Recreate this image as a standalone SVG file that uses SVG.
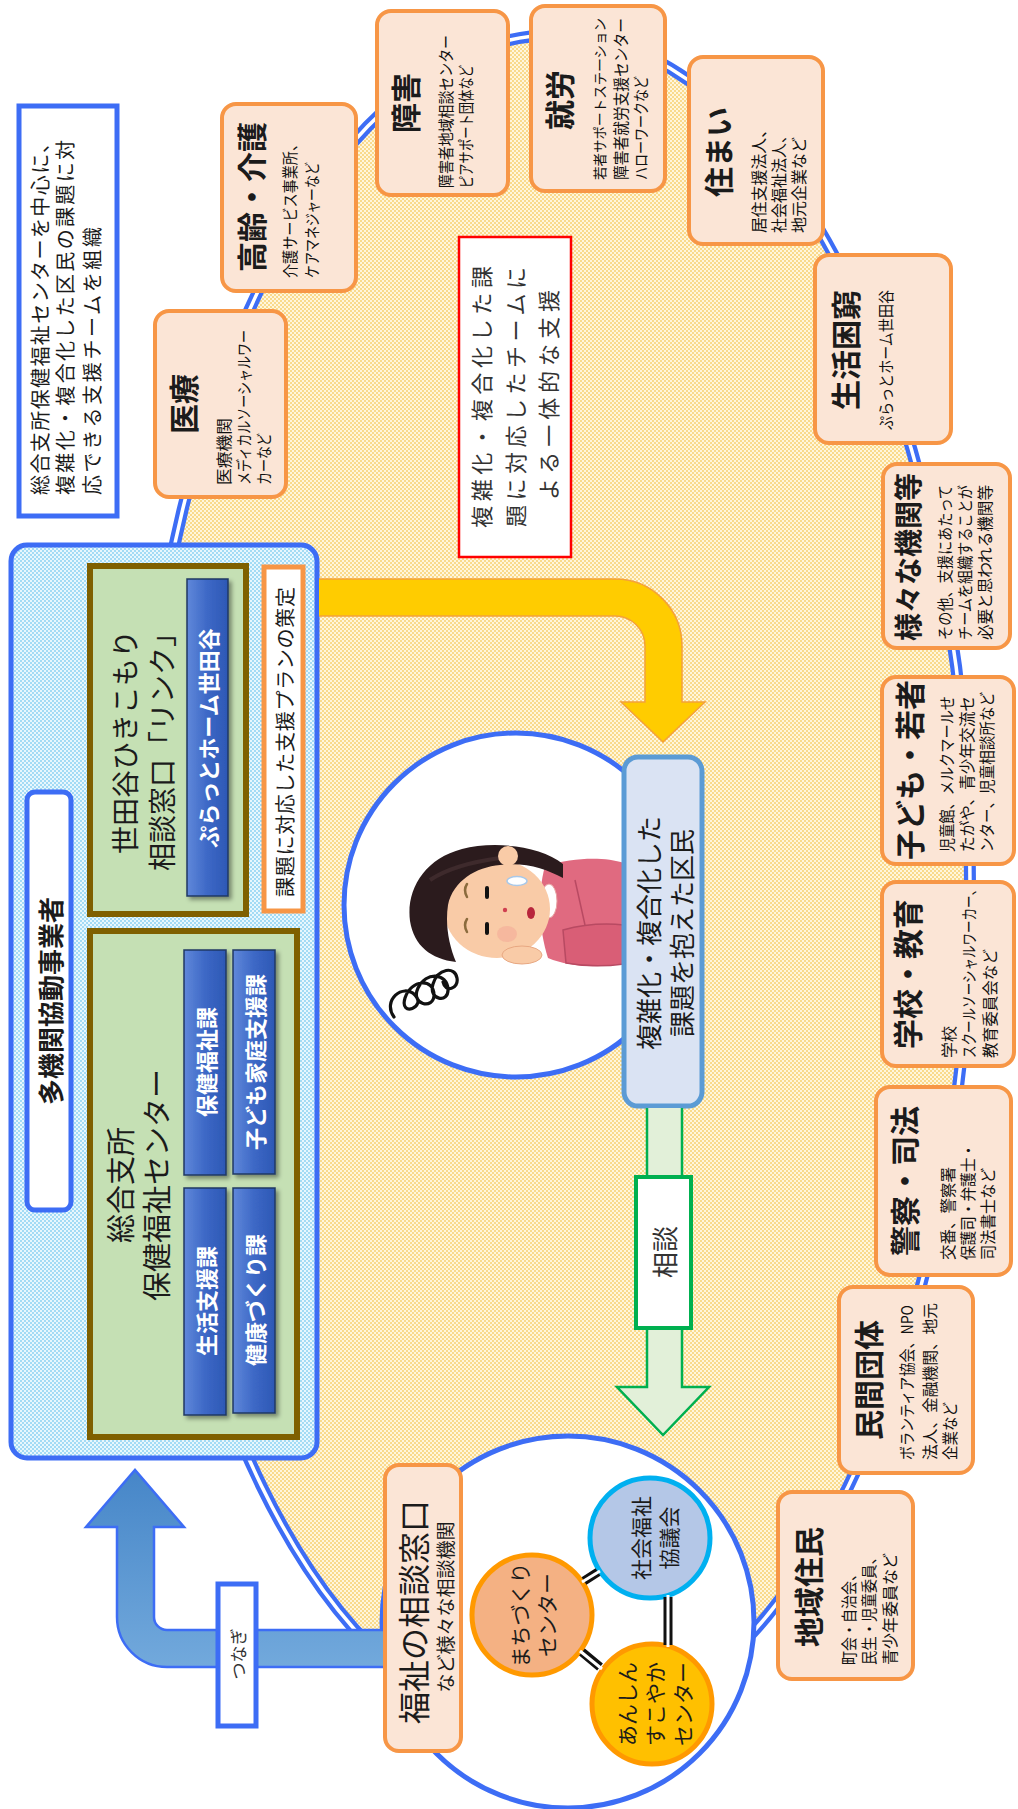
<svg xmlns="http://www.w3.org/2000/svg" width="1018" height="1809" viewBox="0 0 1018 1809">
<defs>
  <pattern id="ptYellow" width="4" height="4" patternUnits="userSpaceOnUse">
    <rect width="4" height="4" fill="#FFF6DC"/>
    <rect width="2" height="2" fill="#F9DA8C"/>
    <rect x="2" y="2" width="2" height="2" fill="#F9DA8C"/>
  </pattern>
  <pattern id="ptBlue" width="4" height="4" patternUnits="userSpaceOnUse">
    <rect width="4" height="4" fill="#E8F7FD"/>
    <rect width="2" height="2" fill="#A3DBF5"/>
    <rect x="2" y="2" width="2" height="2" fill="#A3DBF5"/>
  </pattern>
  <linearGradient id="gBar" x1="0" y1="0" x2="1" y2="0">
    <stop offset="0" stop-color="#6088DA"/>
    <stop offset="0.5" stop-color="#3D68C6"/>
    <stop offset="1" stop-color="#2D58B5"/>
  </linearGradient>
  <linearGradient id="gLink" x1="0" y1="0" x2="0" y2="1">
    <stop offset="0" stop-color="#4686C8"/>
    <stop offset="1" stop-color="#72A9DC"/>
  </linearGradient>
  <filter id="fShadow" x="-30%" y="-10%" width="160%" height="130%">
    <feDropShadow dx="3" dy="3" stdDeviation="2" flood-color="#000" flood-opacity="0.4"/>
  </filter>
</defs>
<style>
  text { font-family: "Noto Sans CJK JP", "Noto Sans CJK SC", sans-serif; fill: #1b1b1b; dominant-baseline: central; }
  .m { text-anchor: middle; }
  .st { text-anchor: start; }
  .ttl { font-size: 30px; font-weight: 700; }
  .sub { font-size: 16px; fill: #111; }
  .cat { fill: #FBE5D6; stroke: #F79646; stroke-width: 4; }
  .bar { fill: url(#gBar); stroke: #1F3864; stroke-width: 1.5; filter: url(#fShadow); }
  .barT { fill: #fff; font-size: 22px; font-weight: 700; }
  .ring { fill: #fff; stroke: #3D6DF5; stroke-width: 5; }
  .grn { fill: #C5E0B4; stroke: #7F6000; stroke-width: 6; }
  .twin { stroke: #111; stroke-width: 9; }
  .twinGap { stroke: #fff; stroke-width: 3; }
</style>

<!-- team circle: dotted field with double outline -->
<g id="team-field">
  <ellipse cx="555" cy="885" rx="415" ry="850" fill="url(#ptYellow)"/>
  <ellipse cx="555" cy="885" rx="415" ry="850" fill="none" stroke="#3D6DF5" stroke-width="12"/>
  <ellipse cx="555" cy="885" rx="415" ry="850" fill="none" stroke="#fff" stroke-width="3.5"/>
</g>

<!-- explanatory note -->
<g id="node-note">
  <rect x="19" y="106" width="98" height="410" fill="#fff" stroke="#3D6DF5" stroke-width="5"/>
  <text class="st" style="font-size:20px" transform="translate(39 495) rotate(-90)" textLength="362" lengthAdjust="spacing">総合支所保健福祉センターを中心に、</text>
  <text class="st" style="font-size:20px" transform="translate(64 495) rotate(-90)" textLength="355" lengthAdjust="spacing">複雑化・複合化した区民の課題に対</text>
  <text class="st" style="font-size:20px" transform="translate(91 495) rotate(-90)" textLength="268" lengthAdjust="spacing">応できる支援チームを組織</text>
</g>

<!-- multi-agency collaboration operators -->
<g id="node-multi-agency">
  <rect x="11" y="545" width="306" height="913" rx="16" fill="url(#ptBlue)" stroke="#3D6DF5" stroke-width="5"/>
  <rect x="27" y="792" width="44" height="418" rx="8" fill="#fff" stroke="#3D6DF5" stroke-width="5"/>
  <text class="m" style="font-size:26px;font-weight:700" transform="translate(49 1001) rotate(-90)">多機関協動事業者</text>

  <g id="node-link">
    <rect class="grn" x="90" y="566" width="156" height="348"/>
    <text class="m" style="font-size:28px" transform="translate(124 742) rotate(-90)">世田谷ひきこもり</text>
    <text class="m" style="font-size:28px" transform="translate(161 745) rotate(-90)">相談窓口「リンク」</text>
    <rect class="bar" x="187" y="579" width="41" height="317"/>
    <text class="m barT" transform="translate(207 738) rotate(-90)">ぷらっとホーム世田谷</text>
  </g>

  <g id="node-plan">
    <rect x="264" y="567" width="39" height="344" fill="#fff" stroke="#F79646" stroke-width="5"/>
    <text class="m" style="font-size:20px" transform="translate(284 742) rotate(-90)" textLength="310" lengthAdjust="spacing">課題に対応した支援プランの策定</text>
  </g>

  <g id="node-health-center">
    <rect class="grn" x="90" y="931" width="207" height="506"/>
    <text class="m" style="font-size:29px" transform="translate(119 1185) rotate(-90)">総合支所</text>
    <text class="m" style="font-size:29px" transform="translate(155 1185) rotate(-90)">保健福祉センター</text>
    <rect class="bar" x="184" y="950" width="42" height="225"/>
    <text class="m barT" transform="translate(205 1062) rotate(-90)">保健福祉課</text>
    <rect class="bar" x="233" y="950" width="42" height="224"/>
    <text class="m barT" transform="translate(254 1062) rotate(-90)">子ども家庭支援課</text>
    <rect class="bar" x="184" y="1188" width="42" height="227"/>
    <text class="m barT" transform="translate(205 1301) rotate(-90)">生活支援課</text>
    <rect class="bar" x="233" y="1188" width="42" height="225"/>
    <text class="m barT" transform="translate(254 1300) rotate(-90)">健康づくり課</text>
  </g>
</g>

<!-- resident with complex problems -->
<g id="node-resident">
  <circle class="ring" cx="516" cy="905" r="172"/>
  <!-- stress scribble -->
  <path d="M394,1017 C382,1000 403,983 415,995 C427,1007 399,1018 405,998 C411,979 434,978 434,995 C434,1010 410,1005 418,988 C426,971 447,973 448,989 C449,1004 428,1000 433,984 C438,968 455,966 457,978 C459,989 445,993 443,982" fill="none" stroke="#111" stroke-width="3.2" stroke-linecap="round"/>
  <!-- sweater -->
  <path d="M545,866 C575,857 605,857 624,863 L624,962 C600,969 570,967 548,958 C539,930 537,895 545,866 Z" fill="#E06A80"/>
  <path d="M563,930 C585,924 605,923 624,925 L624,964 C602,967 582,966 566,963 Z" fill="#D95E76" stroke="#B84A62" stroke-width="1.5"/>
  <path d="M575,880 L585,925" fill="none" stroke="#B84A62" stroke-width="1.5"/>
  <ellipse cx="549" cy="901" rx="8" ry="17" fill="#fff" stroke="#E7A2A2" stroke-width="1"/>
  <!-- face -->
  <ellipse cx="497" cy="909" rx="53" ry="49" fill="#F9CBA7"/>
  <ellipse cx="507" cy="934" rx="10" ry="8" fill="#F4A596" opacity="0.5"/>
  <!-- hair -->
  <path d="M563,864 C540,845 492,841 462,849 C424,859 406,890 410,921 C414,946 431,959 456,962 C449,945 445,925 448,905 C453,881 476,867 500,865 C526,862 546,869 563,878 Z" fill="#2B1B1D"/>
  <path d="M430,880 C445,870 470,862 500,858" fill="none" stroke="#3E2A2C" stroke-width="4"/>
  <circle cx="508" cy="856" r="10" fill="#F9CBA7"/>
  <!-- features -->
  <path d="M467,884 q-4,6 0,13 M467,919 q-4,6 0,13" fill="none" stroke="#8B6B3D" stroke-width="2.5" stroke-linecap="round"/>
  <path d="M487,888 V897 M487,924 V933" stroke="#111" stroke-width="4" stroke-linecap="round"/>
  <circle cx="505" cy="910" r="2.2" fill="#D04050"/>
  <ellipse cx="531" cy="913" rx="4" ry="6" fill="#B8263C"/>
  <ellipse cx="517" cy="881" rx="10" ry="4.5" fill="#fff" stroke="#A9C8E8" stroke-width="1.5"/>
  <!-- hand under the chin -->
  <ellipse cx="522" cy="955" rx="20" ry="9" fill="#F9CBA7" stroke="#E8A882" stroke-width="1"/>

  <rect x="624" y="757" width="78" height="349" rx="14" fill="#DAE3F3" stroke="#5B9BD5" stroke-width="5"/>
  <text class="m" style="font-size:26px" transform="translate(647 933) rotate(-90)">複雑化・複合化した</text>
  <text class="m" style="font-size:26px" transform="translate(680 933) rotate(-90)">課題を抱えた区民</text>
</g>

<!-- integrated support caption -->
<g id="node-integrated">
  <rect x="459" y="237" width="112" height="320" fill="#fff" stroke="#FF0000" stroke-width="2.5"/>
  <text class="m" style="font-size:22px;fill:#333" transform="translate(480 397) rotate(-90)" textLength="262" lengthAdjust="spacing">複雑化・複合化した課</text>
  <text class="m" style="font-size:22px;fill:#333" transform="translate(514 397) rotate(-90)" textLength="260" lengthAdjust="spacing">題に対応したチームに</text>
  <text class="m" style="font-size:22px;fill:#333" transform="translate(547 395) rotate(-90)" textLength="210" lengthAdjust="spacing">よる一体的な支援</text>
</g>

<!-- partner categories around the team circle -->
<g id="node-medical">
  <rect class="cat" x="155" y="311" width="131" height="186" rx="14"/>
  <text class="m ttl" transform="translate(182 404) rotate(-90)">医療</text>
  <text class="st sub" transform="translate(223 485) rotate(-90)" textLength="67" lengthAdjust="spacingAndGlyphs">医療機関</text>
  <text class="st sub" transform="translate(243 485) rotate(-90)" textLength="155" lengthAdjust="spacingAndGlyphs">メディカルソーシャルワー</text>
  <text class="st sub" transform="translate(263 485) rotate(-90)" textLength="52" lengthAdjust="spacingAndGlyphs">カーなど</text>
</g>
<g id="node-elderly">
  <rect class="cat" x="222" y="104" width="134" height="187" rx="14"/>
  <text class="m ttl" transform="translate(250 197) rotate(-90)">高齢・介護</text>
  <text class="st sub" transform="translate(289 278) rotate(-90)" textLength="141" lengthAdjust="spacingAndGlyphs">介護サービス事業所、</text>
  <text class="st sub" transform="translate(311 278) rotate(-90)" textLength="116" lengthAdjust="spacingAndGlyphs">ケアマネジャーなど</text>
</g>
<g id="node-disability">
  <rect class="cat" x="377" y="11" width="131" height="184" rx="14"/>
  <text class="m ttl" transform="translate(404 103) rotate(-90)">障害</text>
  <text class="st sub" transform="translate(445 188) rotate(-90)" textLength="153" lengthAdjust="spacingAndGlyphs">障害者地域相談センター</text>
  <text class="st sub" transform="translate(465 188) rotate(-90)" textLength="123" lengthAdjust="spacingAndGlyphs">ピアサポート団体など</text>
</g>
<g id="node-work">
  <rect class="cat" x="531" y="6" width="134" height="185" rx="14"/>
  <text class="m ttl" transform="translate(558 100) rotate(-90)">就労</text>
  <text class="st sub" style="font-size:14px" transform="translate(599 180) rotate(-90)" textLength="162" lengthAdjust="spacingAndGlyphs">若者サポートステーション</text>
  <text class="st sub" transform="translate(620 180) rotate(-90)" textLength="162" lengthAdjust="spacingAndGlyphs">障害者就労支援センター</text>
  <text class="st sub" transform="translate(640 180) rotate(-90)" textLength="104" lengthAdjust="spacingAndGlyphs">ハローワークなど</text>
</g>
<g id="node-housing">
  <rect class="cat" x="689" y="57" width="134" height="187" rx="14"/>
  <text class="m ttl" transform="translate(717 152) rotate(-90)">住まい</text>
  <text class="st sub" transform="translate(758 233) rotate(-90)" textLength="111" lengthAdjust="spacingAndGlyphs">居住支援法人、</text>
  <text class="st sub" transform="translate(778 233) rotate(-90)" textLength="105" lengthAdjust="spacingAndGlyphs">社会福祉法人、</text>
  <text class="st sub" transform="translate(798 233) rotate(-90)" textLength="96" lengthAdjust="spacingAndGlyphs">地元企業など</text>
</g>
<g id="node-poverty">
  <rect class="cat" x="815" y="255" width="136" height="188" rx="14"/>
  <text class="m ttl" transform="translate(844 350) rotate(-90)">生活困窮</text>
  <text class="st sub" transform="translate(885 430) rotate(-90)" textLength="140" lengthAdjust="spacingAndGlyphs">ぷらっとホーム世田谷</text>
</g>
<g id="node-various">
  <rect class="cat" x="883" y="464" width="127" height="184" rx="14"/>
  <text class="m ttl" style="font-size:28px" transform="translate(907 557) rotate(-90)">様々な機関等</text>
  <text class="st sub" transform="translate(944 640) rotate(-90)" textLength="155" lengthAdjust="spacingAndGlyphs">その他、支援にあたって</text>
  <text class="st sub" transform="translate(964 640) rotate(-90)" textLength="155" lengthAdjust="spacingAndGlyphs">チームを組織することが</text>
  <text class="st sub" transform="translate(984 640) rotate(-90)" textLength="155" lengthAdjust="spacingAndGlyphs">必要と思われる機関等</text>
</g>
<g id="node-youth">
  <rect class="cat" x="882" y="677" width="132" height="187" rx="14"/>
  <text class="m ttl" transform="translate(908 770) rotate(-90)">子ども・若者</text>
  <text class="st sub" transform="translate(946 852) rotate(-90)" textLength="156" lengthAdjust="spacingAndGlyphs">児童館、メルクマールせ</text>
  <text class="st sub" transform="translate(966 852) rotate(-90)" textLength="156" lengthAdjust="spacingAndGlyphs">たがや、青少年交流セ</text>
  <text class="st sub" transform="translate(986 852) rotate(-90)" textLength="160" lengthAdjust="spacingAndGlyphs">ンター、児童相談所など</text>
</g>
<g id="node-school">
  <rect class="cat" x="882" y="882" width="132" height="184" rx="14"/>
  <text class="m ttl" transform="translate(906 974) rotate(-90)">学校・教育</text>
  <text class="st sub" transform="translate(948 1058) rotate(-90)" textLength="32" lengthAdjust="spacingAndGlyphs">学校</text>
  <text class="st sub" transform="translate(968 1058) rotate(-90)" textLength="175" lengthAdjust="spacingAndGlyphs">スクールソーシャルワーカー、</text>
  <text class="st sub" transform="translate(989 1058) rotate(-90)" textLength="109" lengthAdjust="spacingAndGlyphs">教育委員会など</text>
</g>
<g id="node-police">
  <rect class="cat" x="876" y="1087" width="135" height="188" rx="14"/>
  <text class="m ttl" transform="translate(903 1181) rotate(-90)">警察・司法</text>
  <text class="st sub" transform="translate(947 1260) rotate(-90)" textLength="93" lengthAdjust="spacingAndGlyphs">交番、警察署</text>
  <text class="st sub" transform="translate(967 1260) rotate(-90)" textLength="117" lengthAdjust="spacingAndGlyphs">保護司・弁護士・</text>
  <text class="st sub" transform="translate(987 1260) rotate(-90)" textLength="92" lengthAdjust="spacingAndGlyphs">司法書士など</text>
</g>
<g id="node-private">
  <rect class="cat" x="839" y="1287" width="134" height="186" rx="14"/>
  <text class="m ttl" transform="translate(867 1380) rotate(-90)">民間団体</text>
  <text class="st sub" transform="translate(906 1460) rotate(-90)" textLength="155" lengthAdjust="spacingAndGlyphs">ボランティア協会、NPO</text>
  <text class="st sub" transform="translate(929 1460) rotate(-90)" textLength="157" lengthAdjust="spacingAndGlyphs">法人、金融機関、地元</text>
  <text class="st sub" transform="translate(949 1460) rotate(-90)" textLength="58" lengthAdjust="spacingAndGlyphs">企業など</text>
</g>
<g id="node-residents">
  <rect class="cat" x="778" y="1492" width="135" height="187" rx="14"/>
  <text class="m ttl" transform="translate(807 1587) rotate(-90)">地域住民</text>
  <text class="st sub" transform="translate(848 1665) rotate(-90)" textLength="98" lengthAdjust="spacingAndGlyphs">町会・自治会、</text>
  <text class="st sub" transform="translate(868 1665) rotate(-90)" textLength="115" lengthAdjust="spacingAndGlyphs">民生・児童委員、</text>
  <text class="st sub" transform="translate(889 1665) rotate(-90)" textLength="112" lengthAdjust="spacingAndGlyphs">青少年委員など</text>
</g>

<!-- welfare consultation desks -->
<g id="node-welfare-desks">
  <circle class="ring" cx="568" cy="1622" r="186"/>
  <g id="node-machizukuri">
    <circle cx="532" cy="1615" r="60" fill="#F4B183" stroke="#FF9900" stroke-width="5"/>
    <text class="m" style="font-size:21px" transform="translate(519 1615) rotate(-90)">まちづくり</text>
    <text class="m" style="font-size:21px" transform="translate(546 1615) rotate(-90)">センター</text>
  </g>
  <g id="node-shakyo">
    <circle cx="650" cy="1538" r="60" fill="#B4C7E7" stroke="#00B0F0" stroke-width="5"/>
    <text class="m" style="font-size:21px" transform="translate(640 1538) rotate(-90)">社会福祉</text>
    <text class="m" style="font-size:21px" transform="translate(668 1538) rotate(-90)">協議会</text>
  </g>
  <g id="node-anshin">
    <circle cx="652" cy="1704" r="60" fill="#FFC000" stroke="#FF9900" stroke-width="5"/>
    <text class="m" style="font-size:21px" transform="translate(626 1704) rotate(-90)">あんしん</text>
    <text class="m" style="font-size:21px" transform="translate(654 1704) rotate(-90)">すこやか</text>
    <text class="m" style="font-size:21px" transform="translate(682 1704) rotate(-90)">センター</text>
  </g>
  <rect x="385" y="1465" width="76" height="286" rx="14" class="cat"/>
  <text class="m" style="font-size:32px" transform="translate(412 1612) rotate(-90)">福祉の相談窓口</text>
  <text class="m" style="font-size:19px" transform="translate(444 1607) rotate(-90)">など様々な相談機関</text>
</g>

<!-- connectors -->
<g id="connectors">
  <!-- team forms integrated support for the resident -->
  <path d="M319,579 H615 A67,67 0 0 1 682,646 V702 H705 L663,742 L621,702 H645 V646 A30,30 0 0 0 615,616 H319" fill="#FFCC00" stroke="#F4A13A" stroke-width="1.5"/>
  <!-- consultation -->
  <path d="M647,1108 V1387 H617 L663,1435 L709,1387 H682 V1108" fill="#E2F0D9" stroke="#00B050" stroke-width="2.5"/>
  <rect x="636" y="1177" width="55" height="151" fill="#fff" stroke="#00B050" stroke-width="4"/>
  <text class="m" style="font-size:26px;fill:#333" transform="translate(663 1252) rotate(-90)">相談</text>
  <!-- hand-off from welfare desks to the operators -->
  <path d="M383,1630 H167 A13,13 0 0 1 154,1617 V1527 H184 L135,1470 L86,1527 H117 V1617 A50,50 0 0 0 167,1667 H383" fill="url(#gLink)" stroke="#3D6DF5" stroke-width="2.5"/>
  <rect x="218" y="1584" width="38" height="142" fill="#fff" stroke="#3D6DF5" stroke-width="5"/>
  <text class="m" style="font-size:17px;fill:#333" transform="translate(237 1654) rotate(-90)">つなぎ</text>
  <!-- links between the three desks -->
  <path class="twin" d="M584,1581 L598,1572 M582,1652 L600,1667 M668,1597 V1645"/>
  <path class="twinGap" d="M582,1582 L600,1571 M580,1651 L602,1669 M668,1595 V1647"/>
</g>
</svg>
